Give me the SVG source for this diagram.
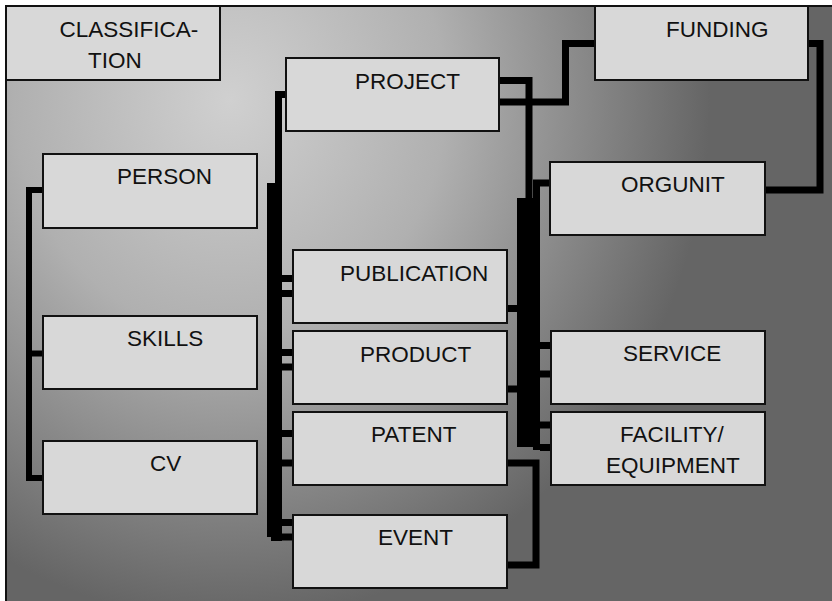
<svg xmlns="http://www.w3.org/2000/svg" width="832" height="601" viewBox="0 0 832 601">
<defs>
<radialGradient id="bg" gradientUnits="userSpaceOnUse" cx="0" cy="0" r="1" gradientTransform="translate(230 100) scale(480 520)">
<stop offset="0" stop-color="#d0d0d0"/>
<stop offset="0.45" stop-color="#b0b0b0"/>
<stop offset="1" stop-color="#656565"/>
</radialGradient>
<style>
.box{fill:#d8d8d8;stroke:#111;stroke-width:2}
.t{font-family:"Liberation Sans",Arial,sans-serif;font-size:22.5px;fill:#111}
.c{fill:none;stroke:#000;stroke-width:7;stroke-linejoin:miter}
.c6{fill:none;stroke:#000;stroke-width:6}
.s{fill:#000}
</style>
</defs>
<rect x="0" y="0" width="832" height="601" fill="#fff"/>
<rect x="6" y="6" width="840" height="610" fill="url(#bg)" stroke="#111" stroke-width="2"/>
<g id="connectors">
<path class="c6" d="M43,190 H29 V478 H43 M29,353.5 H43"/>
<path class="c" d="M286,94.5 H278.5 V540"/>
<rect class="s" x="267" y="183" width="15" height="354"/>
<rect class="s" x="271" y="535" width="11" height="6"/>
<path class="c" d="M282,278.5 H293 M282,293.5 H293 M282,352.5 H293 M282,367 H293 M282,433.5 H293 M282,463 H293 M282,522.5 H293 M282,537 H293"/>
<path class="c" d="M499,80.5 H529 V200"/>
<path class="c" d="M499,102 H565.5 V43.5 H595"/>
<path class="c" d="M808,43.5 H820 V190 H765"/>
<path class="c" d="M550,183 H536.5 V450"/>
<rect class="s" x="517" y="198" width="23" height="249"/>
<path class="c" d="M507,308.5 H518 M507,389 H518"/>
<path class="c" d="M507,463 H536 V565 H507"/>
<path class="c" d="M540,345.5 H551 M540,374 H551 M540,425 H551 M540,447.5 H551"/>
</g>
<g id="classification"><rect class="box" x="6" y="6" width="214" height="74"/><text class="t" x="59.5" y="37">CLASSIFICA-</text><text class="t" x="88" y="68">TION</text></g>
<g id="funding"><rect class="box" x="595" y="6" width="213" height="74"/><text class="t" x="666" y="37">FUNDING</text></g>
<g id="project"><rect class="box" x="286" y="58" width="213" height="73"/><text class="t" x="355" y="89">PROJECT</text></g>
<g id="orgunit"><rect class="box" x="550" y="162" width="215" height="73"/><text class="t" x="621" y="192">ORGUNIT</text></g>
<g id="person"><rect class="box" x="43" y="154" width="214" height="74"/><text class="t" x="117" y="184">PERSON</text></g>
<g id="skills"><rect class="box" x="43" y="316" width="214" height="73"/><text class="t" x="127" y="346">SKILLS</text></g>
<g id="cv"><rect class="box" x="43" y="441" width="214" height="73"/><text class="t" x="150" y="471">CV</text></g>
<g id="publication"><rect class="box" x="293" y="250" width="214" height="73"/><text class="t" x="340" y="281">PUBLICATION</text></g>
<g id="product"><rect class="box" x="293" y="331" width="214" height="73"/><text class="t" x="360" y="362">PRODUCT</text></g>
<g id="patent"><rect class="box" x="293" y="412" width="214" height="73"/><text class="t" x="371" y="442">PATENT</text></g>
<g id="event"><rect class="box" x="293" y="515" width="214" height="73"/><text class="t" x="378" y="545">EVENT</text></g>
<g id="service"><rect class="box" x="551" y="331" width="214" height="73"/><text class="t" x="623" y="361">SERVICE</text></g>
<g id="facility"><rect class="box" x="551" y="412" width="214" height="73"/><text class="t" x="620" y="442">FACILITY/</text><text class="t" x="606" y="473">EQUIPMENT</text></g>
</svg>
